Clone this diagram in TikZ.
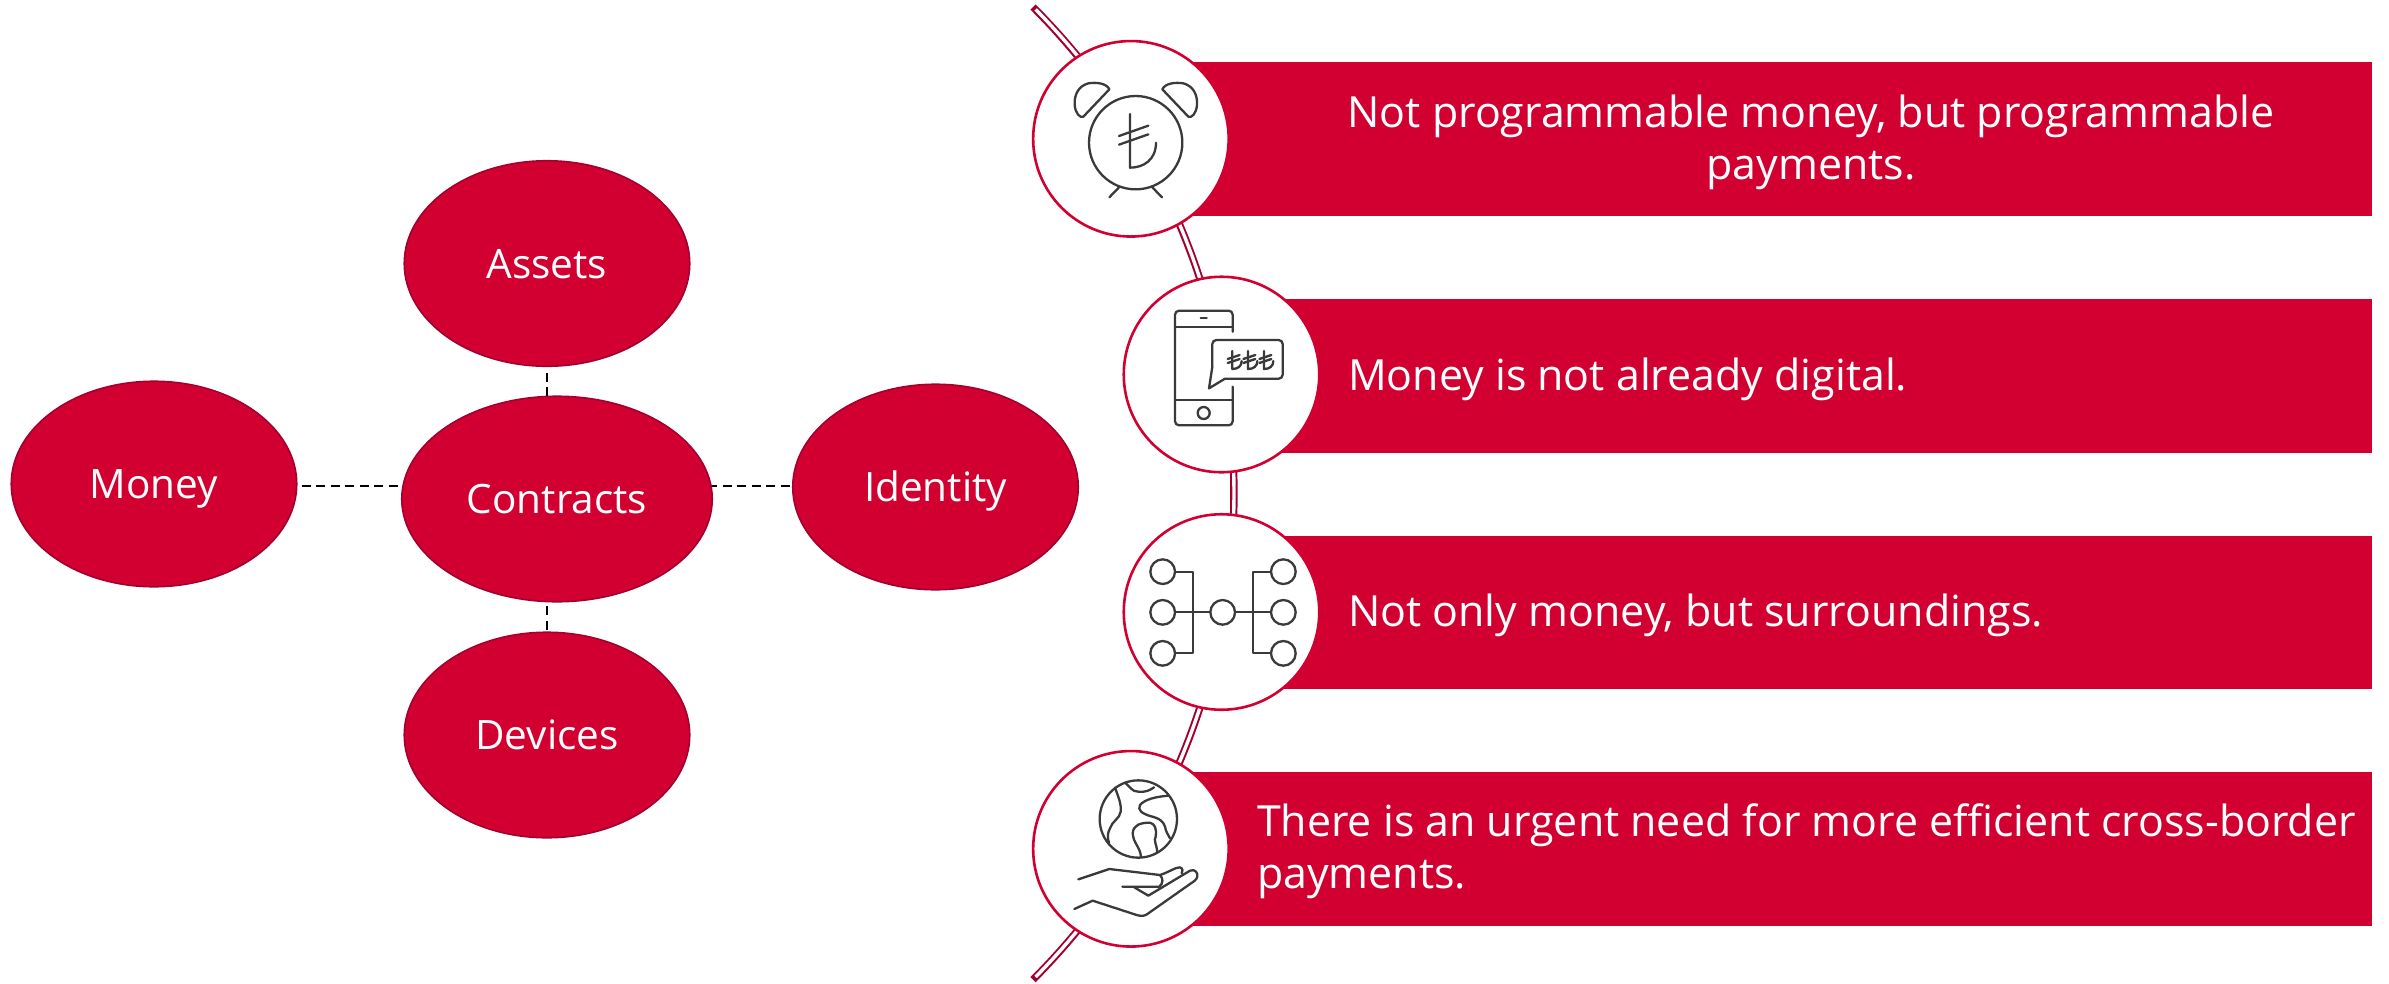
\documentclass[tikz,border=0pt]{standalone}
\usepackage{fontspec}
\setmainfont{Open Sans}
\usetikzlibrary{shapes.geometric,backgrounds}
\definecolor{brandred}{HTML}{D20031}
\definecolor{darkred}{HTML}{A3002F}
\definecolor{iconink}{HTML}{3A3A3A}
\tikzset{
  hub/.style={ellipse,draw=darkred,line width=1.6pt,fill=brandred,text=white,inner sep=0pt,outer sep=0pt,font=\fontsize{40.5}{48}\selectfont,text height=29pt,text depth=0pt,minimum width=#1,minimum height=205.5pt},
  hub/.default=285.5pt,
  link/.style={draw=black,line width=2pt,dash pattern=on 9pt off 5.5pt},
  bar/.style={rectangle,fill=brandred,inner sep=0pt,outer sep=0pt,anchor=north west,minimum width=1242pt,minimum height=153.5pt},
  badge/.style={circle,draw=brandred,fill=white,line width=2.6pt,inner sep=0pt,outer sep=0pt,minimum size=195.5pt},
  bartext/.style={text=white,inner sep=0pt,font=\fontsize{42.9}{52}\selectfont},
  ink/.style={draw=iconink,line width=2.3pt,line cap=round,line join=round},
  icon/.style={x=0.33333pt,y=-0.33333pt}
}
\newcommand{\liraglyph}[2]{%
  \begin{scope}[shift={(#1,#2)}]
    \draw[ink] (-8,-32) -- (-8,22) .. controls (8,22) and (20,14) .. (20,-2);
    \draw[ink] (-22,-8) -- (14,-20);
    \draw[ink] (-22,4) -- (14,-8);
  \end{scope}}
\begin{document}
\begin{tikzpicture}[x=1pt,y=-1pt]
\useasboundingbox (0,0) rectangle (2389,983);
% track
\coordinate (trackTop) at (1033,7);
\coordinate (trackInner) at (1035.6,9.4);
\draw[darkred,line width=7.4pt] (trackTop) arc[start angle=-44.9,end angle=44.9,radius=689];
\draw[white,line width=3.4pt] (trackInner) arc[start angle=-44.6,end angle=44.6,radius=689];
% bars
\node[bar] (bar1) at (1130,62) {};
\node[bar,minimum width=1152pt] (bar2) at (1220,299) {};
\node[bar,minimum width=1152pt] (bar3) at (1220,535.5) {};
\node[bar] (bar4) at (1130,772.3) {};
% badges
\node[badge] (badge1) at (1130.9,138.8) {};
\node[badge] (badge2) at (1221.5,374.5) {};
\node[badge] (badge3) at (1221.5,612) {};
\node[badge] (badge4) at (1130.9,848.8) {};
% bar texts
\node[bartext,align=center] (t1) at (1811,142.5) {Not programmable money, but programmable\\payments.};
\node[bartext,anchor=west] (t2) at (1348,379) {Money is not already digital.};
\node[bartext,anchor=west] (t3) at (1348,615.5) {Not only money, but surroundings.};
\node[bartext,align=left,anchor=west] (t4) at (1257,851.5) {There is an urgent need for more efficient cross-border\\payments.};
% hubs
\node[hub] (assets) at (547,263.5) {Assets};
\node[hub] (devices) at (547,735) {Devices};
\node[hub] (money) at (154,484) {Money};
\node[hub] (identity) at (935.5,487) {Identity};
\node[hub=310.5pt] (contracts) at (557,499) {Contracts};
% links, behind the hubs
\coordinate (linkrow) at (0,486.3);
\begin{scope}[on background layer]
  \draw[link,shorten <=5pt,shorten >=-4pt] (money.east |- linkrow) -- (contracts.west |- linkrow);
  \draw[link,shorten <=-4pt] (contracts.east |- linkrow) -- (identity.west |- linkrow);
  \draw[link,shorten <=6.5pt,shorten >=-4pt] (assets.south) -- (contracts.north -| assets.south);
  \draw[link,shorten <=4.5pt] (contracts.south -| devices.north) -- (devices.north);
\end{scope}
% alarm clock icon
\begin{scope}[shift={(1000,0)},icon]
  \draw[ink] (407,428) circle[radius=140];
  \draw[ink] (328,268) .. controls (320,250) and (290,246) .. (265,250) .. controls (235,258) and (222,285) .. (224,315) .. controls (226,340) and (240,355) .. (250,350) -- cycle;
  \draw[ink] (487,268) .. controls (495,250) and (525,246) .. (550,250) .. controls (580,258) and (593,285) .. (591,315) .. controls (589,340) and (575,355) .. (565,350) -- cycle;
  \draw[ink] (357,562) -- (328,592);
  \draw[ink] (457,562) -- (486,592);
  \draw[ink] (390,342) -- (390,503) .. controls (430,503) and (468,480) .. (468,428);
  \draw[ink] (357,408) -- (445,377);
  \draw[ink] (357,434) -- (445,403);
\end{scope}
% phone icon
\begin{scope}[shift={(1090,260)},icon]
  \draw[ink,rounded corners=4pt] (428,215) -- (428,152) -- (255,152) -- (255,496) -- (428,496) -- (428,380);
  \draw[ink] (255,200) -- (428,200);
  \draw[ink] (255,420) -- (428,420);
  \draw[ink] (332,175) -- (350,175);
  \draw[ink] (341,459) circle[radius=18];
  \draw[ink,rounded corners=4pt] (405,356) -- (578,356) -- (578,240) -- (367,240) -- (367,320);
  \draw[ink] (367,320) -- (357,385) -- (405,356);
  \liraglyph{435}{305}
  \liraglyph{482}{305}
  \liraglyph{530}{305}
\end{scope}
% network icon
\begin{scope}[shift={(1090,490)},icon]
  \foreach \cy in {245,367,490} {
    \draw[ink] (218,\cy) circle[radius=37];
    \draw[ink] (580,\cy) circle[radius=37];
  }
  \draw[ink] (398,367) circle[radius=37];
  \draw[ink,line cap=butt] (255,245) -- (308,245) -- (308,490) -- (255,490);
  \draw[ink,line cap=butt] (255,367) -- (361,367);
  \draw[ink,line cap=butt] (435,367) -- (543,367);
  \draw[ink,line cap=butt] (543,245) -- (490,245) -- (490,490) -- (543,490);
\end{scope}
% globe and hand icon
\begin{scope}[shift={(1000,730)},icon]
  \draw[ink] (415,267) circle[radius=116];
  \draw[ink] (345,173) .. controls (355,200) and (365,225) .. (362,245) .. controls (360,265) and (335,275) .. (330,295) .. controls (322,310) and (322,320) .. (327,340);
  \draw[ink] (375,158) .. controls (390,170) and (395,185) .. (415,185) .. controls (440,187) and (450,180) .. (462,172);
  \draw[ink] (505,197) .. controls (470,200) and (435,207) .. (420,225) .. controls (412,240) and (425,250) .. (450,258) .. controls (480,265) and (490,275) .. (495,290) .. controls (497,305) and (505,315) .. (510,325);
  \draw[ink] (423,380) .. controls (420,350) and (400,340) .. (398,310) .. controls (400,285) and (420,278) .. (450,278) .. controls (465,282) and (470,295) .. (467,320) .. controls (460,330) and (470,345) .. (472,365);
  \draw[ink] (235,448) -- (328,417) -- (480,435) .. controls (510,425) and (525,412) .. (540,412) .. controls (550,415) and (548,425) .. (545,430);
  \draw[ink] (480,435) .. controls (490,445) and (490,460) .. (478,470) -- (367,470);
  \draw[ink] (403,472) -- (445,497) -- (570,422) .. controls (585,415) and (595,430) .. (592,440) .. controls (590,450) and (580,455) .. (570,462) -- (445,550) .. controls (435,558) and (425,560) .. (410,555) -- (278,512) -- (223,537);
\end{scope}
\end{tikzpicture}
\end{document}
